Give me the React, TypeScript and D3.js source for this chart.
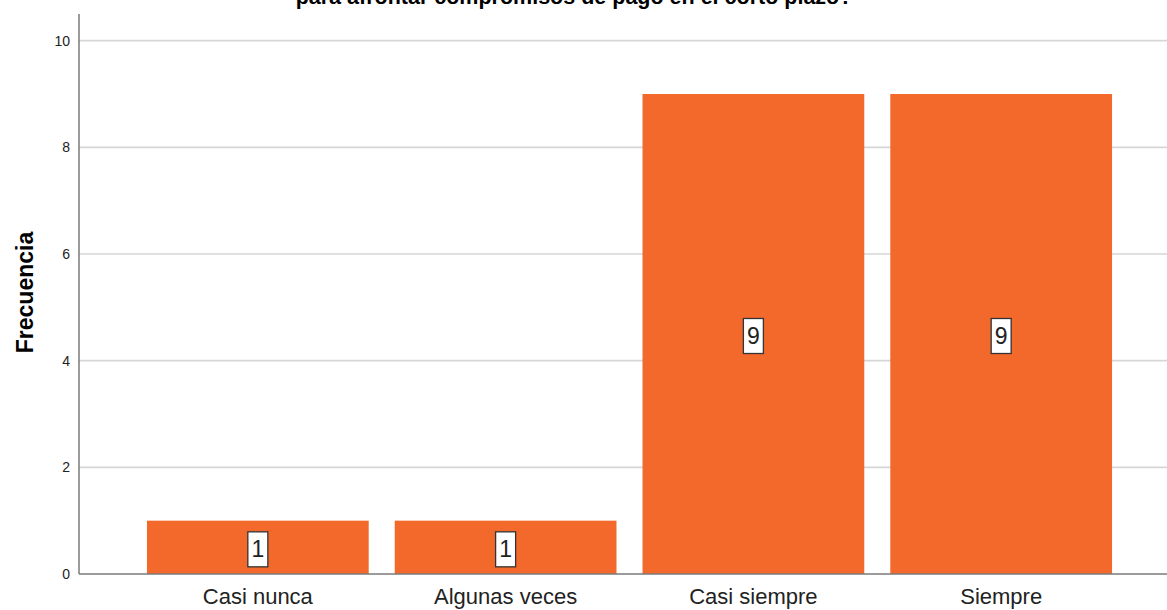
import React from "react";
import * as d3 from "d3";

const categories = ["Casi nunca", "Algunas veces", "Casi siempre", "Siempre"];
const frequencies = [1, 1, 9, 9];
const yTicks = [0, 2, 4, 6, 8, 10];
const titleLine = "para afrontar compromisos de pago en el corto plazo?";
const yAxisTitle = "Frecuencia";

const W = 1167;
const H = 610;
const axisX = 79;
const axisY = 574;

export default function App() {
  const y = d3.scaleLinear().domain([0, 10.5]).range([axisY, 14]);
  const x = d3
    .scaleBand<string>()
    .domain(categories)
    .range([97.4, 1161.6])
    .paddingInner(0.105)
    .paddingOuter(0.2);

  const font = "Arial, 'Liberation Sans', sans-serif";

  return (
    <div style={{ position: "absolute", left: 0, top: 0 }}>
      <svg width={W} height={H} style={{ display: "block", background: "#fff" }}>
        {/* title (only its bottom line is visible, as in the reference) */}
        <text
          x={574}
          y={4}
          textAnchor="middle"
          fontFamily={font}
          fontWeight="bold"
          fontSize={21.5}
          fill="#000"
        >
          {titleLine}
        </text>

        {/* gridlines */}
        {yTicks.filter((t) => t > 0).map((t) => (
          <line
            key={"g" + t}
            x1={axisX}
            x2={W}
            y1={y(t)}
            y2={y(t)}
            stroke="#d6d6d6"
            strokeWidth={1.6}
          />
        ))}

        {/* bars */}
        {categories.map((c, i) => (
          <rect
            key={c}
            x={x(c)}
            y={y(frequencies[i])}
            width={x.bandwidth()}
            height={axisY - y(frequencies[i])}
            fill="#F3692C"
          />
        ))}

        {/* axes */}
        <line x1={axisX} x2={axisX} y1={y(10.5)} y2={axisY} stroke="#7a7a7a" strokeWidth={1.5} />
        <line x1={axisX} x2={W} y1={axisY} y2={axisY} stroke="#7a7a7a" strokeWidth={1.5} />

        {/* y ticks */}
        {yTicks.map((t) => (
          <text
            key={"t" + t}
            x={70}
            y={y(t)}
            dy="0.36em"
            textAnchor="end"
            fontFamily={font}
            fontSize={14}
            fill="#222"
          >
            {t}
          </text>
        ))}

        {/* y axis title */}
        <text
          transform={`translate(33, ${(230 + 355) / 2}) rotate(-90)`}
          textAnchor="middle"
          fontFamily={font}
          fontWeight="bold"
          fontSize={23}
          fill="#000"
        >
          {yAxisTitle}
        </text>

        {/* x labels */}
        {categories.map((c) => (
          <text
            key={"x" + c}
            x={(x(c) ?? 0) + x.bandwidth() / 2}
            y={604}
            textAnchor="middle"
            fontFamily={font}
            fontSize={22}
            fill="#222"
          >
            {c}
          </text>
        ))}

        {/* value labels */}
        {categories.map((c, i) => {
          const cx = (x(c) ?? 0) + x.bandwidth() / 2;
          const cy = y(frequencies[i] / 2) + 1.5;
          return (
            <g key={"v" + c}>
              <rect
                x={cx - 10}
                y={cy - 17}
                width={20}
                height={35}
                fill="#fff"
                stroke="#333"
                strokeWidth={1.3}
              />
              <text
                x={cx}
                y={cy}
                dy="0.36em"
                textAnchor="middle"
                fontFamily={font}
                fontSize={23}
                fill="#222"
              >
                {frequencies[i]}
              </text>
            </g>
          );
        })}
      </svg>
    </div>
  );
}
